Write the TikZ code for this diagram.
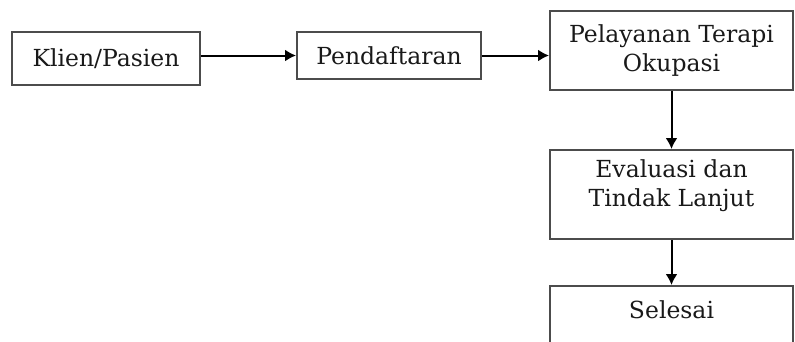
\documentclass[tikz,border=0pt]{standalone}
\usepackage{fontspec}
\setmainfont{DejaVu Serif}
\usetikzlibrary{arrows.meta}

\begin{document}
\begin{tikzpicture}[x=1pt, y=-1pt,
    box/.style={draw=black!70, line width=2pt, text=black!90, align=center,
      inner sep=0pt, font=\fontsize{23.5}{29}\selectfont},
    arr/.style={line width=2pt, -{Latex[length=11pt, width=12pt]}}]
  \clip (0, 0) rectangle (795, 341);

  % Client
  \node [box, minimum width=188, minimum height=53] (klien) at (106, 58.5)
    {Klien/Pasien};

  % Registration
  \node [box, minimum width=184, minimum height=47] (daftar) at (389, 55.5)
    {Pendaftaran};

  % Service
  \node [box, minimum width=243, minimum height=79] (layan) at (671.5, 50.5)
    {Pelayanan Terapi\\Okupasi};

  % Evaluation
  \node [box, minimum width=243, minimum height=89] (evaluasi) at (671.5, 194.5)
    {Evaluasi dan\\Tindak Lanjut\\[-6pt]~};

  % End (runs off the page)
  \node [box, minimum width=243, anchor=north, inner ysep=15pt,
    text depth=45pt] (selesai) at (671.5, 285) {Selesai};

  % Edges
  \draw [arr] (klien.east |- daftar.west) -- (daftar.west);
  \draw [arr] (daftar.east) -- (daftar.east -| layan.west);
  \draw [arr] (layan) -- (evaluasi);
  \draw [arr] (evaluasi) -- (selesai);
\end{tikzpicture}
\end{document}
